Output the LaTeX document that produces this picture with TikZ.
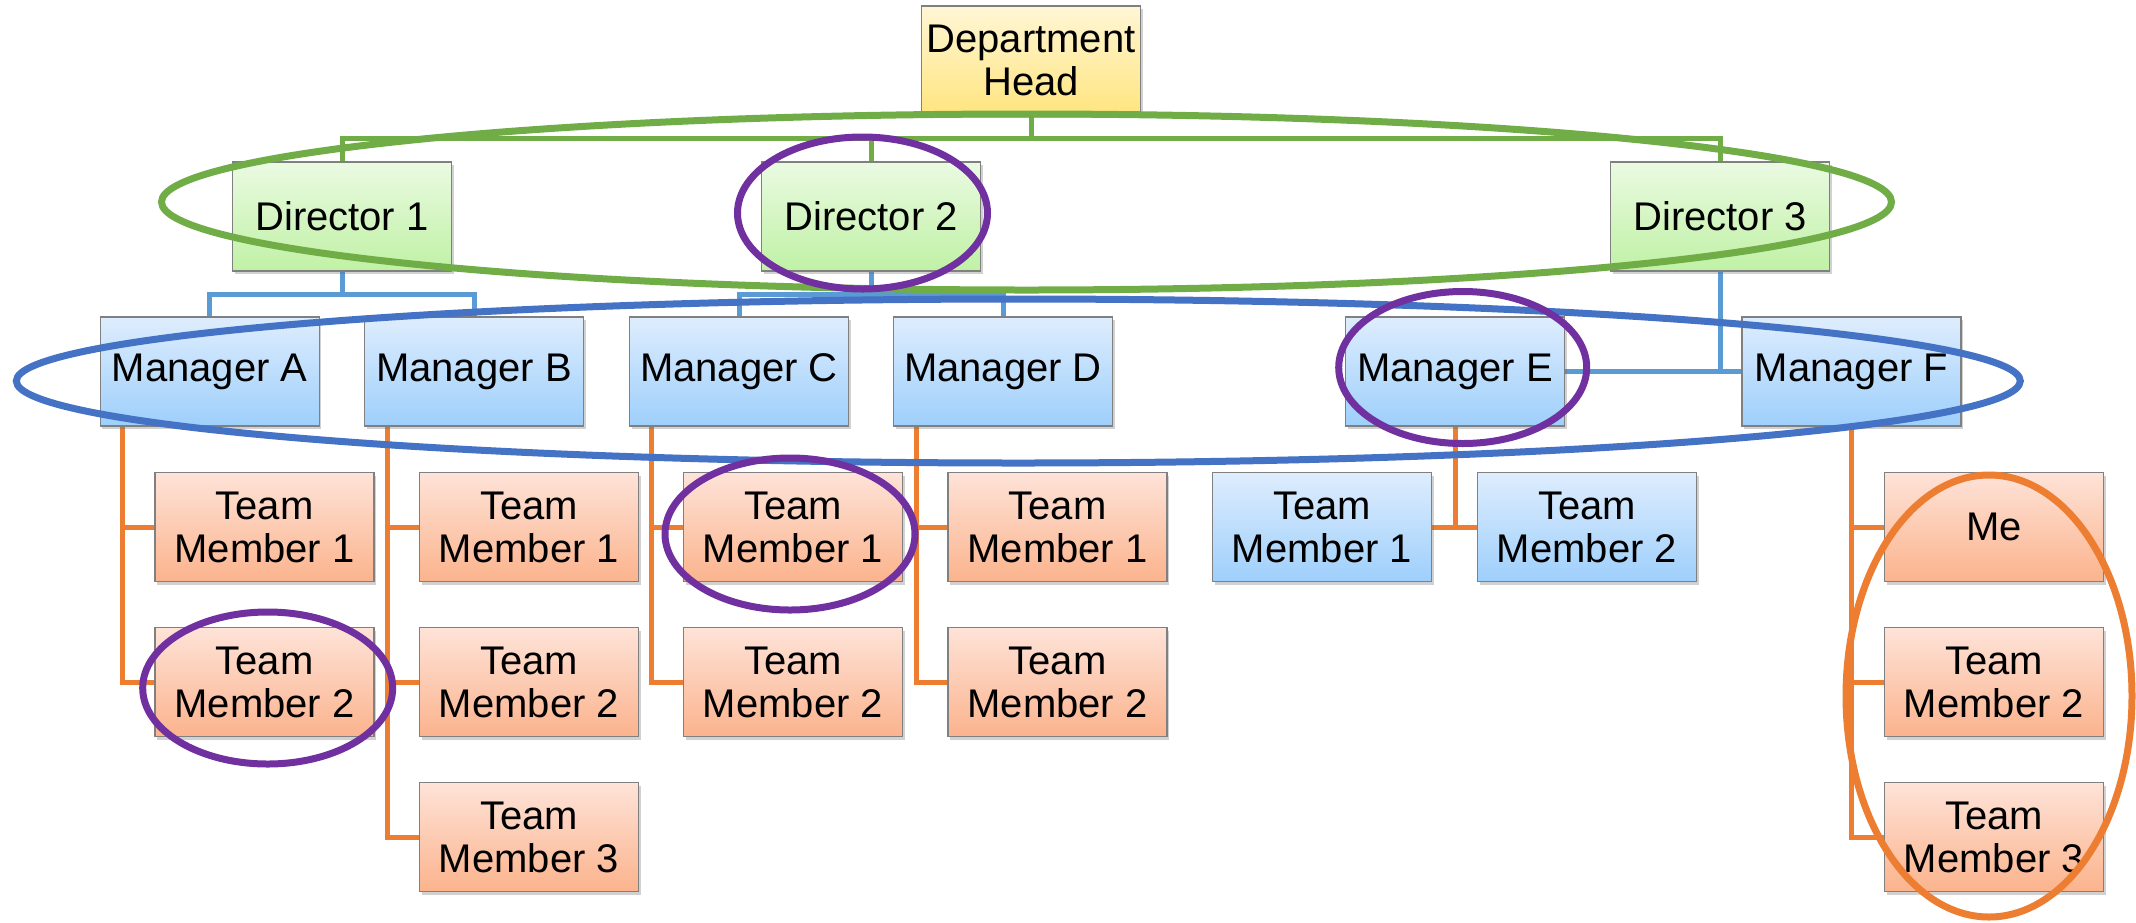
\documentclass[tikz,border=0pt]{standalone}
\usepackage{fontspec}
\setmainfont{Liberation Sans}
\usetikzlibrary{shadows,calc,backgrounds}
\definecolor{yTop}{HTML}{FFF6D5}
\definecolor{yBot}{HTML}{FFE57F}
\definecolor{gTop}{HTML}{EAFAE2}
\definecolor{gBot}{HTML}{C0F1A5}
\definecolor{bTop}{HTML}{DEEDFD}
\definecolor{bBot}{HTML}{9ECFFC}
\definecolor{oTop}{HTML}{FEE3D8}
\definecolor{oBot}{HTML}{FBB38D}
\definecolor{boxline}{HTML}{808080}
\definecolor{cGreen}{HTML}{70AD47}
\definecolor{cBlue}{HTML}{5B9BD5}
\definecolor{cOrange}{HTML}{ED7D31}
\definecolor{eBlue}{HTML}{4472C4}
\definecolor{ePurple}{HTML}{7030A0}
\begin{document}
\begin{tikzpicture}[x=1pt,y=-1pt,
  box/.style={draw=boxline, line width=1.3pt, minimum width=219pt, minimum height=109pt,
    inner sep=0pt, align=center, font=\fontsize{40pt}{43pt}\selectfont,
    drop shadow={shadow xshift=2pt, shadow yshift=-3pt, opacity=0.3, fill=black!60}},
  headbox/.style={box, top color=yTop, bottom color=yBot},
  dirbox/.style={box, top color=gTop, bottom color=gBot},
  mgrbox/.style={box, top color=bTop, bottom color=bBot},
  tmbox/.style={box, top color=oTop, bottom color=oBot},
  gconn/.style={draw=cGreen, line width=5pt},
  bconn/.style={draw=cBlue, line width=5pt},
  oconn/.style={draw=cOrange, line width=5pt},
  ring/.style={line width=7pt},
]
\useasboundingbox (0,0) rectangle (2136,922);

\coordinate (gbus) at (1031,138);
\coordinate (bus1) at (342,294);
\coordinate (bus2) at (871,294);
\coordinate (ta) at (122,426);
\coordinate (tb) at (387,426);
\coordinate (tc) at (651,426);
\coordinate (td) at (916,426);

% boxes
\node[headbox] (DH) at (1031,60.5) {Department\\Head};

\node[dirbox] (d1) at (342,216.5) {Director 1};
\node[dirbox] (d2) at (871,216.5) {Director 2};
\node[dirbox] (d3) at (1720,216.5) {Director 3};

\node[mgrbox] (mA) at (209.7,371.5) {Manager A};
\node[mgrbox] (mB) at (474,371.5) {Manager B};
\node[mgrbox] (mC) at (739,371.5) {Manager C};
\node[mgrbox] (mD) at (1003,371.5) {Manager D};
\node[mgrbox] (mE) at (1455,371.5) {Manager E};
\node[mgrbox] (mF) at (1851.5,371.5) {Manager F};

\node[tmbox] (a1) at (264.5,527) {Team\\Member 1};
\node[tmbox] (a2) at (264.5,682) {Team\\Member 2};
\node[tmbox] (b1) at (529,527) {Team\\Member 1};
\node[tmbox] (b2) at (529,682) {Team\\Member 2};
\node[tmbox] (b3) at (529,837) {Team\\Member 3};
\node[tmbox] (c1) at (793,527) {Team\\Member 1};
\node[tmbox] (c2) at (793,682) {Team\\Member 2};
\node[tmbox] (dd1) at (1057.5,527) {Team\\Member 1};
\node[tmbox] (dd2) at (1057.5,682) {Team\\Member 2};
\node[mgrbox] (e1) at (1322,527) {Team\\Member 1};
\node[mgrbox] (e2) at (1587,527) {Team\\Member 2};
\node[tmbox] (f1) at (1994,527) {Me};
\node[tmbox] (f2) at (1994,682) {Team\\Member 2};
\node[tmbox] (f3) at (1994,837) {Team\\Member 3};

% connectors behind boxes
\begin{scope}[on background layer]
\draw[gconn] (DH.south) -- (gbus);
\draw[gconn] (d1.north) |- (gbus) -| (d3.north);
\draw[gconn] (d2.north) -- (d2.north |- gbus);

\draw[bconn] (d1.south) -- (bus1);
\draw[bconn] (mA.north) |- (bus1) -| (mB.north);
\draw[bconn] (d2.south) -- (bus2);
\draw[bconn] (mC.north) |- (bus2) -| (mD.north);
\draw[bconn] (d3.south) -- (d3.south |- mE.east);
\draw[bconn] (mE.east) -- (mF.west);

\draw[oconn] (ta) |- (a2.west);
\draw[oconn] (a1.west) -- (a1.west -| ta);
\draw[oconn] (tb) |- (b3.west);
\draw[oconn] (b1.west) -- (b1.west -| tb);
\draw[oconn] (b2.west) -- (b2.west -| tb);
\draw[oconn] (tc) |- (c2.west);
\draw[oconn] (c1.west) -- (c1.west -| tc);
\draw[oconn] (td) |- (dd2.west);
\draw[oconn] (dd1.west) -- (dd1.west -| td);
\draw[oconn] (mE.south) -- (mE.south |- e1.east);
\draw[oconn] (e1.east) -- (e2.west);
\draw[oconn] (mF.south) |- (f3.west);
\draw[oconn] (f1.west) -- (f1.west -| mF.south);
\draw[oconn] (f2.west) -- (f2.west -| mF.south);
\end{scope}

% highlight rings
\draw[ring, draw=cGreen] (1026.5,202) ellipse [x radius=865pt, y radius=88pt];
\draw[ring, draw=eBlue] (1018.3,381) ellipse [x radius=1002pt, y radius=82pt];
\draw[ring, draw=ePurple] (862.5,213) ellipse [x radius=125pt, y radius=76pt];
\draw[ring, draw=ePurple] (1462.7,367.5) ellipse [x radius=124pt, y radius=76pt];
\draw[ring, draw=ePurple] (790,534) ellipse [x radius=125pt, y radius=76pt];
\draw[ring, draw=ePurple] (267.7,688) ellipse [x radius=125pt, y radius=76pt];
\draw[ring, draw=cOrange] (1989,696) ellipse [x radius=143pt, y radius=221pt];
\end{tikzpicture}
\end{document}
